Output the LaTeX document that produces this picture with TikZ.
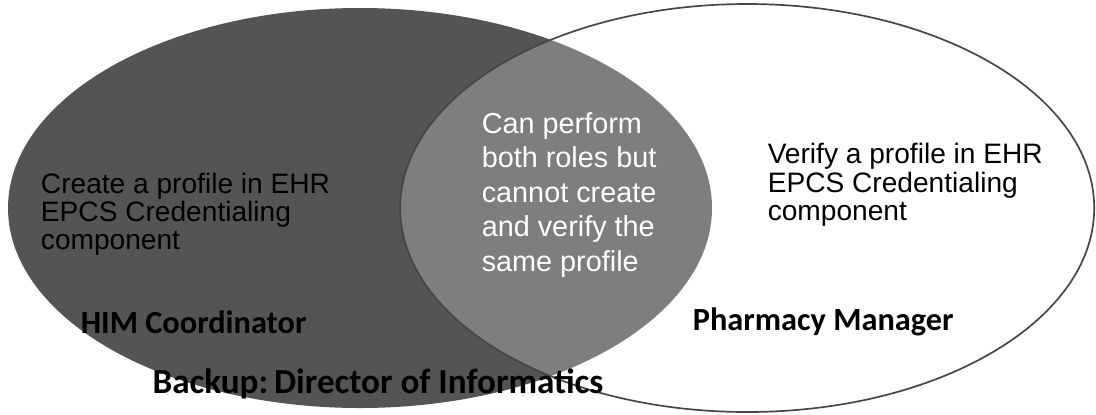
\documentclass[tikz,border=0pt]{standalone}
\usepackage{fontspec}
\setmainfont{Liberation Sans}
\newfontfamily\labelfont{Carlito}
\usetikzlibrary{shapes.geometric, positioning}
\definecolor{himgray}{RGB}{84, 84, 84}
\definecolor{rimgray}{RGB}{70, 70, 70}
\tikzstyle{role} = [ellipse, inner sep=0pt]
\tikzstyle{duty} = [align=left, text=black, font=\fontsize{20}{20}\selectfont]
\tikzstyle{title} = [text=black, font=\labelfont\bfseries\fontsize{23}{23}\selectfont]

\begin{document}
\begin{tikzpicture}
    % page with white ground
    \fill[white] (0,0) rectangle (27.4,-10.35);
    \useasboundingbox (0,0) rectangle (27.4,-10.35);

    % the two role sets
    \node (him) [role, fill=himgray, minimum width=17.6cm, minimum height=10cm] at (9.0,-5.2) {};
    \node (pharm) [role, fill=white, fill opacity=0.25, draw=rimgray, draw opacity=1, line width=1.2pt,
        minimum width=17.35cm, minimum height=10.2cm] at (18.68,-5.2) {};

    % what each role does
    \node (create) [duty, anchor=west] at (0.9,-5.35) {Create a profile in EHR\\EPCS Credentialing\\component};
    \node (both) [duty, anchor=west, text=white, font=\fontsize{20.5}{24.5}\selectfont] at (11.92,-4.87) {Can perform\\both roles but\\cannot create\\and verify the\\same profile};
    \node (verify) [duty, anchor=west] at (19.07,-4.62) {Verify a profile in EHR\\EPCS Credentialing\\component};

    % role titles
    \node (himlabel) [title] at (4.84,-8.05) {HIM Coordinator};
    \node (pharmlabel) [title] at (20.58,-8.05) {Pharmacy Manager};
    \node (backup) [title, font=\labelfont\bfseries\fontsize{25}{25}\selectfont] at (9.45,-9.6) {Backup:\,Director of Informatics};
\end{tikzpicture}
\end{document}
